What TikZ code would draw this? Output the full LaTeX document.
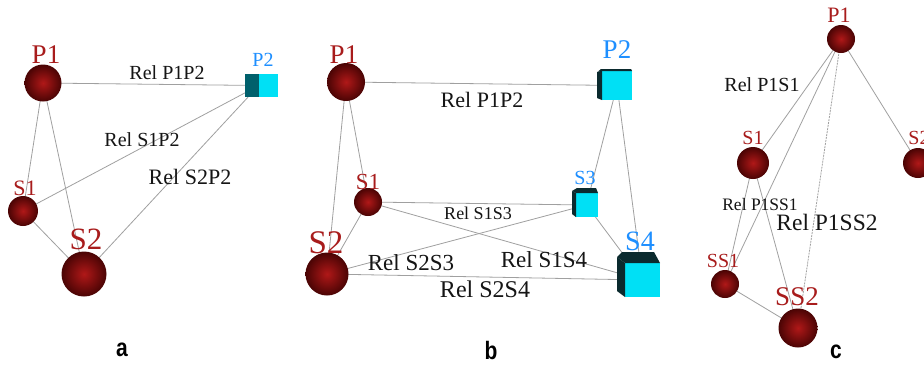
\documentclass[tikz,border=0pt]{standalone}
\usepackage{fontspec}
\setmainfont{Liberation Serif}
\newfontfamily\panelfont{Liberation Sans}
\usetikzlibrary{backgrounds}
\pgfdeclarelayer{bottom}
\pgfsetlayers{bottom,background,main}
\definecolor{sphin}{HTML}{B01818}
\definecolor{sphout}{HTML}{4A0404}
\definecolor{labred}{HTML}{A81C1C}
\definecolor{labblue}{HTML}{1E8FFF}
\definecolor{cubecyan}{HTML}{00E0F5}
\definecolor{cubeteal}{HTML}{00606C}
\definecolor{cubedark}{HTML}{0B2A2E}
\definecolor{relgray}{HTML}{A0A0A0}
\definecolor{reltext}{HTML}{151515}
\begin{document}
\begin{tikzpicture}[x=1pt,y=-1pt,
  sph/.style={circle, inner sep=0pt, minimum size=#1, inner color=sphin, outer color=sphout},
  face/.style={rectangle, inner sep=0pt, fill=cubecyan},
  fs/.style={font=\fontsize{#1}{#1}\selectfont},
  rname/.style={fs=#1, text=labred, inner sep=0pt},
  bname/.style={fs=#1, text=labblue, inner sep=0pt},
  reltxt/.style={fs=#1, text=reltext, inner sep=0pt},
  rel/.style={draw=relgray, line width=0.8pt},
  reld/.style={draw=relgray, line width=0.8pt, dash pattern=on 2pt off 1pt},
  plabel/.style={font=\panelfont\bfseries\fontsize{21}{21}\selectfont, inner sep=0pt}
]
\clip (0,0) rectangle (924,365);
\begin{pgfonlayer}{bottom}
\fill[white] (0,0) rectangle (924,365);
\end{pgfonlayer}

% ---------------- panel a ----------------
\node[sph=37pt] (aP1) at (43,83) {};
\node[sph=30pt] (aS1) at (23,211) {};
\node[sph=45pt] (aS2) at (84,274) {};
\node[face, minimum width=19pt, minimum height=23pt] (aP2) at (268.5,85.5) {};
\fill[cubeteal] (245,74) rectangle (259,97);
\node[rname=27] (laP1) at (46,55) {P1};
\node[rname=22] (laS1) at (25,188) {S1};
\node[rname=31] (laS2) at (86,239) {S2};
\node[bname=20] (laP2) at (263,60) {P2};
\begin{pgfonlayer}{background}
\draw[rel] (aP1.center) -- (aP2.west);
\draw[rel] (aP1.center) -- (aS1.center);
\draw[rel] (aP1.center) -- (aS2.center);
\draw[rel] (aS1.center) -- (aS2.center);
\draw[rel] (aS1.center) -- (aP2.west);
\draw[rel] (aS2.center) -- (aP2.west);
\end{pgfonlayer}
\node[reltxt=20] (taP1P2) at (167,73) {Rel P1P2};
\node[reltxt=20] (taS1P2) at (142,140) {Rel S1P2};
\node[reltxt=22] (taS2P2) at (190,177) {Rel S2P2};

% ---------------- panel b ----------------
\node[sph=38pt] (bP1) at (346,82) {};
\node[sph=28pt] (bS1) at (368,202) {};
\node[sph=43pt] (bS2) at (327,274) {};
\node[face, minimum width=30pt, minimum height=29pt] (bP2) at (617,85.5) {};
\fill[cubedark] (597,72) -- (602,70.5) -- (602,100) -- (597,98) -- cycle;
\fill[cubedark] (598,71.5) -- (601,69) -- (631,69) -- (632,71) -- (602,71) -- cycle;
\node[face, minimum width=23pt, minimum height=24pt] (bS3) at (586.5,205) {};
\fill[cubedark] (572,191) -- (576,193) -- (576,217) -- (572,214) -- cycle;
\fill[cubedark] (572,191) -- (577,188) -- (596,188) -- (598,193) -- (576,193) -- cycle;
\node[face, minimum width=35pt, minimum height=34pt] (bS4) at (642.5,280) {};
\fill[cubedark] (617,257) -- (625,263) -- (625,297) -- (617,291) -- cycle;
\fill[cubedark] (617,257) -- (622,252) -- (654,252) -- (660,263) -- (625,263) -- cycle;
\node[rname=27] (lbP1) at (344,55) {P1};
\node[rname=23] (lbS1) at (368,182) {S1};
\node[rname=33] (lbS2) at (326,243) {S2};
\node[bname=27] (lbP2) at (617,50) {P2};
\node[bname=20] (lbS3) at (585,178) {S3};
\node[bname=28] (lbS4) at (640,241) {S4};
\begin{pgfonlayer}{background}
\draw[rel] (bP1.center) -- (bP2.center);
\draw[rel] (bP1.center) -- (bS1.center);
\draw[rel] (bP1.center) -- (bS2.center);
\draw[rel] (bS1.center) -- (bS2.center);
\draw[rel] (bS1.center) -- (bS3.center);
\draw[rel] (bS1.center) -- (bS4.center);
\draw[rel] (bS2.center) -- (bS3.center);
\draw[rel] (bS2.center) -- (bS4.center);
\draw[rel] (bP2.center) -- (bS3.center);
\draw[rel] (bP2.center) -- (bS4.center);
\draw[rel] (bS3.center) -- (bS4.center);
\end{pgfonlayer}
\node[reltxt=22] (tbP1P2) at (482,100) {Rel P1P2};
\node[reltxt=18] (tbS1S3) at (478,213) {Rel S1S3};
\node[reltxt=23] (tbS2S3) at (411,263) {Rel S2S3};
\node[reltxt=23] (tbS1S4) at (544,260) {Rel S1S4};
\node[reltxt=24] (tbS2S4) at (485,289) {Rel S2S4};

% ---------------- panel c ----------------
\node[sph=28pt] (cP1) at (841,39) {};
\node[sph=32pt] (cS1) at (753,163) {};
\node[sph=30pt] (cS2) at (918,163) {};
\node[sph=28pt] (cSS1) at (725,284) {};
\node[sph=39pt] (cSS2) at (798,328) {};
\node[rname=22] (lcP1) at (839,15) {P1};
\node[rname=20] (lcS1) at (753,138) {S1};
\node[rname=20] (lcS2) at (919,138) {S2};
\node[rname=20] (lcSS1) at (723,261) {SS1};
\node[rname=27] (lcSS2) at (797,297) {SS2};
\begin{pgfonlayer}{background}
\draw[rel] (cP1.center) -- (cS1.center);
\draw[rel] (cP1.center) -- (cSS1.center);
\draw[reld] (cP1.center) -- (cSS2.center);
\draw[rel] (cP1.center) -- (cS2.center);
\draw[rel] (cS1.center) -- (cSS1.center);
\draw[rel] (cS1.center) -- (cSS2.center);
\draw[rel] (cSS1.center) -- (cSS2.center);
\end{pgfonlayer}
\node[reltxt=20] (tcP1S1) at (762,85) {Rel P1S1};
\node[reltxt=17.5] (tcP1SS1) at (760,205) {Rel P1SS1};
\node[reltxt=23.5] (tcP1SS2) at (827,222) {Rel P1SS2};

% ---------------- panel letters ----------------
\node[plabel] (pa) at (122,350) {\scalebox{1}[1.2]{a}};
\node[plabel] (pb) at (491,350) {\scalebox{1}[1.2]{b}};
\node[plabel] (pc) at (836,352) {\scalebox{1}[1.2]{c}};
\end{tikzpicture}
\end{document}
